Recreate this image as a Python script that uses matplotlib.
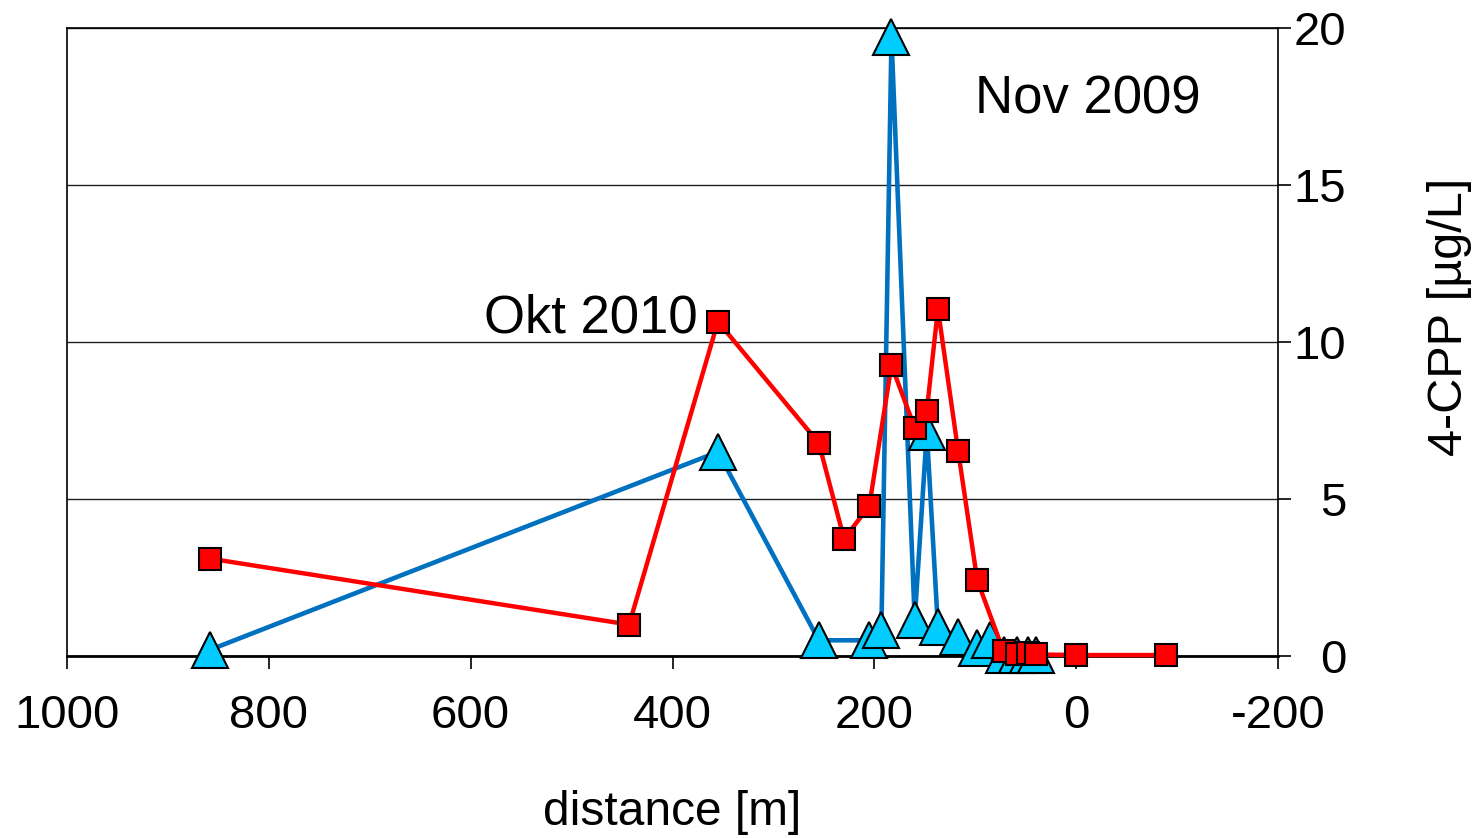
import matplotlib
matplotlib.use("Agg")
import matplotlib.pyplot as plt

plt.rcParams['font.family'] = ['Liberation Sans', 'DejaVu Sans']

# Okt 2010 (red squares)
distance_okt = [858, 443, 355, 255, 230, 205, 183, 160, 148, 137, 117, 98, 72, 59, 48, 40, 0, -89]
cpp_okt = [3.1, 1.0, 10.65, 6.78, 3.73, 4.78, 9.26, 7.27, 7.81, 11.05, 6.54, 2.41, 0.15, 0.05, 0.1, 0.05, 0.03, 0.03]

# Nov 2009 (blue triangles)
distance_nov = [858, 355, 255, 205, 193, 183, 160, 148, 137, 117, 98, 85, 72, 59, 48, 40]
cpp_nov = [0.2, 6.5, 0.5, 0.5, 0.83, 19.7, 1.15, 7.14, 0.93, 0.6, 0.25, 0.5, 0.03, 0.03, 0.03, 0.03]

x_ticks = [1000, 800, 600, 400, 200, 0, -200]
y_ticks = [0, 5, 10, 15, 20]

fig = plt.figure(figsize=(14.81, 8.38), dpi=100)
ax = fig.add_axes([67/1481, 1-656/838, (1278-67)/1481, (656-28)/838])

ax.plot(distance_nov, cpp_nov, color='#0070C0', lw=3.3, marker='^', markersize=26,
        markerfacecolor='#00CCFF', markeredgecolor='black', markeredgewidth=1.5,
        clip_on=False, zorder=3)
ax.plot(distance_okt, cpp_okt, color='#FF0000', lw=3.2, marker='s', markersize=16.5,
        markerfacecolor='#FF0000', markeredgecolor='black', markeredgewidth=1.5,
        clip_on=False, zorder=4)

ax.set_xlim(1000, -200)
ax.set_ylim(0, 20)
ax.set_xticks(x_ticks)
ax.set_xticklabels([str(v) for v in x_ticks])
ax.set_yticks(y_ticks)
ax.set_yticklabels([str(v) for v in y_ticks])

ax.yaxis.tick_right()
ax.grid(axis='y', color='#202020', lw=1.0, zorder=0)
ax.set_axisbelow(True)

for s in ax.spines.values():
    s.set_color('black')
    s.set_linewidth(1.2)
ax.spines['bottom'].set_linewidth(2)

ax.tick_params(axis='x', direction='out', length=9, width=1.2, labelsize=34, pad=18)
ax.tick_params(axis='y', direction='out', length=9, width=1.2, labelsize=34, pad=40)
for lab in ax.get_yticklabels():
    lab.set_horizontalalignment('right')

ax.text(375, 10.76, 'Okt 2010', fontsize=38, ha='right', va='center')
ax.text(100, 17.72, 'Nov 2009', fontsize=38, ha='left', va='center')

fig.text(672/1481, 1-812/838, 'distance [m]', fontsize=34.5, ha='center', va='center')
fig.text(1450/1481, 1-317/838, '4-CPP [µg/L]', fontsize=35, ha='center', va='center',
         rotation=90)

fig.savefig('out.png', dpi=100)
